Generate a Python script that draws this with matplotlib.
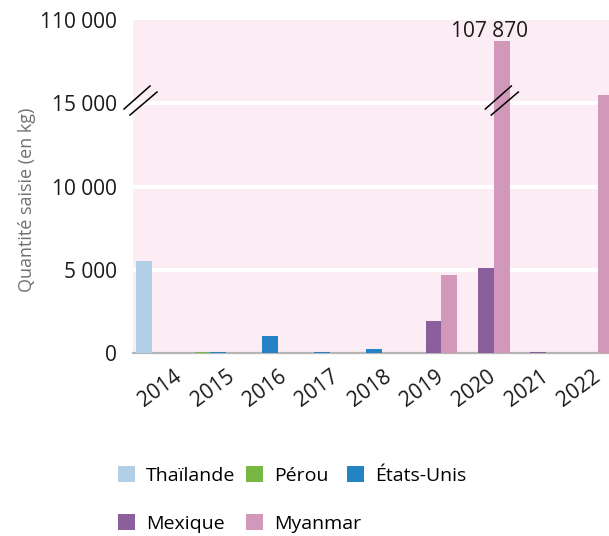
import numpy as np
import matplotlib.pyplot as plt
from matplotlib.transforms import ScaledTranslation

plt.rcParams['font.family'] = ['Open Sans', 'DejaVu Sans']

years = ['2014', '2015', '2016', '2017', '2018', '2019', '2020', '2021', '2022']
thailande = [5530, 0, 0, 0, 0, 0, 0, 0, 0]
perou = [0, 40, 0, 0, 0, 0, 0, 0, 0]
etats_unis = [0, 50, 1020, 50, 220, 0, 0, 0, 0]
mexique = [0, 0, 0, 0, 0, 1920, 5100, 50, 0]
myanmar = [0, 0, 0, 0, 0, 4690, 107870, 0, 15500]

names = ['Thaïlande', 'Pérou', 'États-Unis', 'Mexique', 'Myanmar']
colors = ['#b3cfe6', '#76b843', '#2383c4', '#8b5f9c', '#d198b9']
offsets = [-0.73, -0.60, -0.32, -0.19, 0.11]
width = 0.306

ytick_vals = [0, 5000, 10000, 15000, 110000]
ytick_labels = ['0', '5 000', '10 000', '15 000', '110 000']

# broken axis: everything above ~16 000 is squeezed into the top band
brk_in = [0, 16000, 103260, 110000]
brk_out = [0, 16000, 16001, 20000]


def fwd(v):
    return np.interp(v, brk_in, brk_out)


def inv(v):
    return np.interp(v, brk_out, brk_in)


fig = plt.figure(figsize=(6.09, 5.36), dpi=100)
ax = fig.add_axes([0.2184, 0.3414, 0.7816, 0.6213])
ax.set_yscale('function', functions=(fwd, inv))
ax.set_facecolor('#fcedf4')
for s in ax.spines.values():
    s.set_visible(False)

x = np.arange(len(years))
bars = []
for vals, name, col, off in zip([thailande, perou, etats_unis, mexique, myanmar],
                                names, colors, offsets):
    b = ax.bar(x + off, vals, width, color=col, label=name, zorder=3)
    bars.append(b)

for v in [5000, 10000, 15000]:
    ax.axhline(v, color='white', lw=2.9, zorder=1)
ax.axhline(0, color='#b4b4b4', lw=1.6, zorder=2, clip_on=False)

ax.set_xlim(-0.937, 8.164)
ax.set_ylim(0, 110000)
ax.set_yticks(ytick_vals, ytick_labels)
ax.set_xticks(x, years, rotation=36, ha='right')
ax.tick_params(axis='y', length=0, pad=11.5, labelsize=15, labelcolor='#1a1a1a')
ax.tick_params(axis='x', length=0, pad=9.5, labelsize=15, labelcolor='#1a1a1a')
shift = ScaledTranslation(0.04, 0, fig.dpi_scale_trans)
for lbl in ax.get_xticklabels():
    lbl.set_transform(lbl.get_transform() + shift)
ax.set_ylabel('Quantité saisie (en kg)', fontsize=13, color='#707070')
ax.yaxis.set_label_coords(-0.204, 0.459)

ax.annotate('107 870', (6 - 0.13, 107870), xytext=(0, 3), textcoords='offset points',
            ha='center', va='baseline', fontsize=15, color='#1a1a1a')

# break marks
line1 = ([-0.1625, 0.0975], [-0.085, 0.145])
line2 = ([-0.1025, 0.1675], [-0.145, 0.085])
for xc in [-0.798, 6 + offsets[4]]:
    tr = fig.dpi_scale_trans + ScaledTranslation(xc, 15165, ax.transData)
    for lx, ly in (line1, line2):
        ax.plot(lx, ly, color='black', lw=1.1, transform=tr, clip_on=False, zorder=5)

# legend entries sit on a loose grid, one small legend each
leg_pos = [(118, 466), (246, 466), (347, 466), (118, 514), (246, 514)]
for b, name, (px, py) in zip(bars, names, leg_pos):
    fig.legend([b], [name], loc='upper left', bbox_to_anchor=(px / 609, 1 - py / 536),
               frameon=False, fontsize=14, handlelength=0.88, handleheight=0.88,
               handletextpad=0.55, borderpad=0, borderaxespad=0)

fig.savefig('out.png', dpi=100)
